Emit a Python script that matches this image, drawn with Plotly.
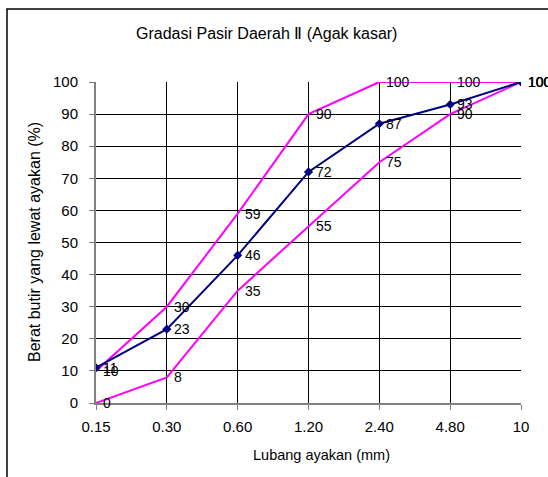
import plotly.graph_objects as go

sieve_sizes = ["0.15", "0.30", "0.60", "1.20", "2.40", "4.80", "10"]
upper_limit = [10, 30, 59, 90, 100, 100, 100]
lower_limit = [0, 8, 35, 55, 75, 90, 100]
sample_pass = [11, 23, 46, 72, 87, 93, 100]
y_ticks = [0, 10, 20, 30, 40, 50, 60, 70, 80, 90, 100]

FONT = "Liberation Sans, Arial, sans-serif"
idx = list(range(len(sieve_sizes)))

fig = go.Figure()
fig.add_trace(go.Scatter(x=idx, y=upper_limit, mode="lines",
                         line=dict(color="#FF00FF", width=2), name="Batas atas"))
fig.add_trace(go.Scatter(x=idx, y=lower_limit, mode="lines",
                         line=dict(color="#FF00FF", width=2), name="Batas bawah"))
fig.add_trace(go.Scatter(x=idx, y=sample_pass, mode="lines+markers",
                         line=dict(color="#000080", width=2),
                         marker=dict(symbol="diamond", size=7, color="#000080"),
                         name="Pasir"))

annotations = []
for series in (upper_limit, lower_limit, sample_pass):
    for i, v in zip(idx, series):
        annotations.append(dict(x=i, y=v, xref="x", yref="y", text=str(v),
                                showarrow=False, xanchor="left", yanchor="middle",
                                xshift=5, font=dict(family=FONT, size=14, color="#000000")))

annotations.append(dict(text="Gradasi Pasir Daerah Ⅱ (Agak kasar)", xref="paper", yref="paper",
                        x=(266 - 96) / 425, y=(403 - 34) / 321, showarrow=False,
                        xanchor="center", yanchor="middle",
                        font=dict(family=FONT, size=16, color="#000000")))
annotations.append(dict(text="Lubang ayakan (mm)", xref="paper", yref="paper",
                        x=(321 - 96) / 425, y=(403 - 455) / 321, showarrow=False,
                        xanchor="center", yanchor="middle",
                        font=dict(family=FONT, size=14.5, color="#000000")))
annotations.append(dict(text="Berat butir yang lewat ayakan (%)", xref="paper", yref="paper",
                        x=(34 - 96) / 425, y=(403 - 242) / 321, showarrow=False,
                        xanchor="center", yanchor="middle", textangle=-90,
                        font=dict(family=FONT, size=16, color="#000000")))

fig.update_layout(
    width=548, height=477,
    margin=dict(l=96, r=27, t=82, b=74),
    paper_bgcolor="white", plot_bgcolor="white",
    showlegend=False,
    font=dict(family=FONT, size=15, color="#000000"),
    annotations=annotations,
    shapes=[dict(type="rect", xref="paper", yref="paper",
                 x0=(7 - 96) / 425, x1=(600 - 96) / 425,
                 y0=(403 - 520) / 321, y1=(403 - 9) / 321,
                 line=dict(color="#000000", width=1.5), fillcolor="rgba(0,0,0,0)", layer="below")],
    xaxis=dict(range=[0, 6], tickmode="array", tickvals=idx, ticktext=sieve_sizes,
               showgrid=True, gridcolor="#000000", gridwidth=1,
               showline=True, linecolor="#808080", linewidth=2,
               ticks="outside", ticklen=5, tickcolor="#808080", tickwidth=1,
               ticklabelstandoff=4,
               zeroline=False, tickfont=dict(size=15)),
    yaxis=dict(range=[0, 100], tickmode="array", tickvals=y_ticks,
               showgrid=True, gridcolor="#000000", gridwidth=1,
               showline=True, linecolor="#808080", linewidth=2,
               ticks="outside", ticklen=5, tickcolor="#808080", tickwidth=1,
               ticklabelstandoff=8,
               zeroline=False, tickfont=dict(size=15)),
)

fig.write_html("out.html", config={"displayModeBar": False},
               post_script="document.body.style.margin='0';document.body.style.padding='0';document.body.style.overflow='hidden';")
